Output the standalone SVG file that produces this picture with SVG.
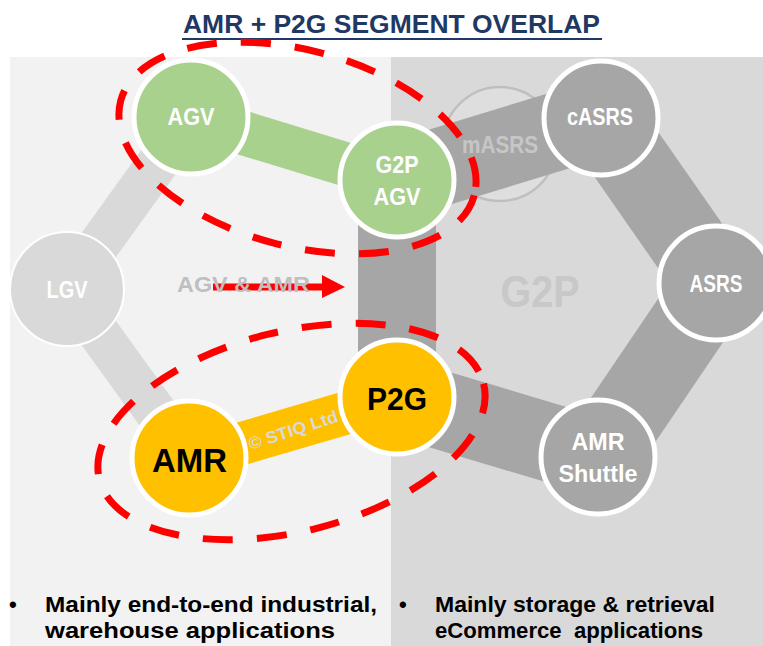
<svg xmlns="http://www.w3.org/2000/svg" width="763" height="646" viewBox="0 0 763 646">
  <defs>
    <style>
      text { font-family: "Liberation Sans", Arial, sans-serif; font-weight: bold; }
      .lbl { fill: #ffffff; font-size: 23px; text-anchor: middle; }
      .node-green { fill: #a9d18e; stroke: #ffffff; stroke-width: 5; }
      .node-yellow { fill: #ffc000; stroke: #ffffff; stroke-width: 5; }
      .node-grey { fill: #a6a6a6; stroke: #ffffff; stroke-width: 5; }
      .band-light { stroke: #d9d9d9; stroke-width: 42; fill: none; }
      .band-dark { stroke: #a6a6a6; stroke-width: 78; fill: none; }
      .ring { fill: none; stroke: #ff0000; stroke-width: 7; stroke-dasharray: 30 24; }
      .note { fill: #000000; font-size: 22px; }
    </style>
  </defs>

  <!-- background panels -->
  <rect x="0" y="0" width="763" height="646" fill="#ffffff"/>
  <rect x="10" y="57" width="381" height="589" fill="#f2f2f2"/>
  <rect x="391" y="57" width="372" height="589" fill="#d9d9d9"/>

  <!-- title -->
  <g id="title">
    <text x="391.5" y="33" font-size="25" fill="#1f3864" text-anchor="middle" textLength="417" lengthAdjust="spacingAndGlyphs">AMR + P2G SEGMENT OVERLAP</text>
    <line x1="182" y1="39" x2="602" y2="39" stroke="#1f3864" stroke-width="2"/>
  </g>

  <!-- faded mASRS node sits under the G2P band -->
  <g id="node-masrs-ring">
    <circle cx="500" cy="144" r="57" fill="#dedede" stroke="#bfbfbf" stroke-width="2.5"/>
  </g>

  <!-- connectors -->
  <g id="connectors">
    <line class="band-light" x1="67" y1="289" x2="191" y2="117"/>
    <line class="band-light" x1="67" y1="289" x2="189" y2="458"/>
    <line class="band-dark" x1="397" y1="180" x2="397" y2="397" stroke-width="80"/>
    <line class="band-dark" x1="397" y1="180" x2="601" y2="118"/>
    <line class="band-dark" x1="601" y1="118" x2="716" y2="283"/>
    <line class="band-dark" x1="716" y1="283" x2="598" y2="457"/>
    <line class="band-dark" x1="598" y1="457" x2="397" y2="397"/>
    <line x1="191" y1="117" x2="397" y2="180" stroke="#a9d18e" stroke-width="44"/>
    <line x1="189" y1="459" x2="397" y2="398" stroke="#ffc000" stroke-width="43"/>
  </g>

  <!-- nodes -->
  <g id="node-lgv">
    <circle cx="67" cy="289" r="57" fill="#d9d9d9" stroke="#ffffff" stroke-width="2"/>
    <text class="lbl" x="67" y="298" textLength="41" lengthAdjust="spacingAndGlyphs">LGV</text>
  </g>
  <g id="node-masrs">
    <text class="lbl" x="500" y="153" style="fill:#c6c6c6" textLength="76" lengthAdjust="spacingAndGlyphs">mASRS</text>
  </g>
  <g id="node-agv">
    <circle class="node-green" cx="191" cy="117" r="57"/>
    <text class="lbl" x="191" y="125" textLength="47" lengthAdjust="spacingAndGlyphs">AGV</text>
  </g>
  <g id="node-g2p-agv">
    <circle class="node-green" cx="397" cy="180" r="57"/>
    <text class="lbl" x="397" y="173" textLength="43" lengthAdjust="spacingAndGlyphs">G2P</text>
    <text class="lbl" x="397" y="205" textLength="47" lengthAdjust="spacingAndGlyphs">AGV</text>
  </g>
  <g id="node-casrs">
    <circle class="node-grey" cx="601" cy="118" r="57"/>
    <text class="lbl" x="600" y="125" textLength="66" lengthAdjust="spacingAndGlyphs">cASRS</text>
  </g>
  <g id="node-asrs">
    <circle class="node-grey" cx="716" cy="283" r="57"/>
    <text class="lbl" x="716" y="292" textLength="53" lengthAdjust="spacingAndGlyphs">ASRS</text>
  </g>
  <g id="node-amr-shuttle">
    <circle class="node-grey" cx="598" cy="457" r="57"/>
    <text class="lbl" x="598" y="450" textLength="53" lengthAdjust="spacingAndGlyphs">AMR</text>
    <text class="lbl" x="598" y="482" textLength="79" lengthAdjust="spacingAndGlyphs">Shuttle</text>
  </g>
  <g id="node-p2g">
    <circle class="node-yellow" cx="397" cy="397" r="57"/>
    <text x="397" y="410" font-size="31" fill="#000000" text-anchor="middle" textLength="60" lengthAdjust="spacingAndGlyphs">P2G</text>
  </g>
  <g id="node-amr">
    <circle class="node-yellow" cx="189" cy="458" r="57"/>
    <text x="189.5" y="472" font-size="33" fill="#000000" text-anchor="middle" textLength="75" lengthAdjust="spacingAndGlyphs">AMR</text>
  </g>

  <!-- watermark on the AMR–P2G link -->
  <text x="293" y="436" font-size="17" fill="#d9d9d9" text-anchor="middle" transform="rotate(-18 293 430)" textLength="93" lengthAdjust="spacingAndGlyphs">© STIQ Ltd</text>

  <!-- segment label -->
  <text x="540" y="307" font-size="44" fill="#c8c8c8" text-anchor="middle" textLength="79" lengthAdjust="spacingAndGlyphs">G2P</text>

  <!-- migration arrow -->
  <g id="arrow-agv-amr">
    <line x1="213" y1="287" x2="324" y2="287" stroke="#ff0000" stroke-width="7"/>
    <polygon points="322,275 345,287 322,298" fill="#ff0000"/>
    <text x="177" y="292" font-size="22" fill="#bfbfbf" textLength="133" lengthAdjust="spacingAndGlyphs">AGV &amp; AMR</text>
  </g>

  <!-- dashed overlap rings -->
  <g id="rings">
    <ellipse class="ring" cx="297.5" cy="148" rx="183" ry="98" transform="rotate(15 297.5 148)"/>
    <ellipse class="ring" cx="291.5" cy="431.5" rx="198" ry="100" transform="rotate(-14 291.5 431.5)"/>
  </g>

  <!-- footnotes -->
  <g id="notes">
    <text class="note" x="9" y="612">•</text>
    <text class="note" x="45" y="612" textLength="332" lengthAdjust="spacingAndGlyphs">Mainly end-to-end industrial,</text>
    <text class="note" x="45" y="638" textLength="290" lengthAdjust="spacingAndGlyphs">warehouse applications</text>
    <text class="note" x="399" y="612">•</text>
    <text class="note" x="435" y="612" textLength="280" lengthAdjust="spacingAndGlyphs">Mainly storage &amp; retrieval</text>
    <text class="note" x="435" y="638" style="white-space:pre" textLength="268" lengthAdjust="spacingAndGlyphs">eCommerce  applications</text>
  </g>
</svg>
